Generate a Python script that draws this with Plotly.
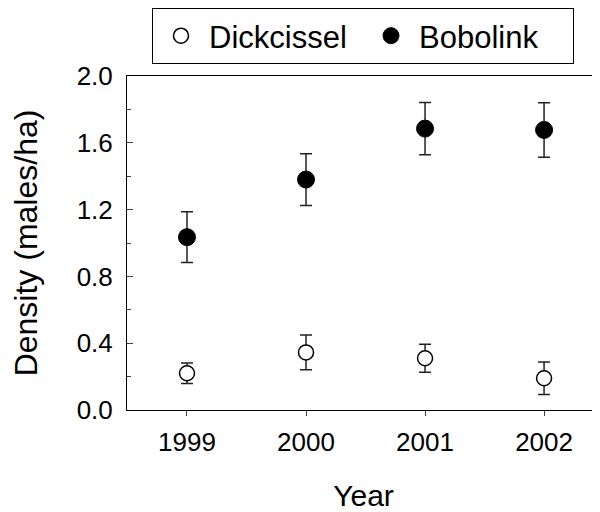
import plotly.graph_objects as go

years = [1999, 2000, 2001, 2002]
dick_mean = [0.22, 0.345, 0.31, 0.19]
dick_se = [0.062, 0.104, 0.084, 0.097]
bob_mean = [1.035, 1.38, 1.685, 1.677]
bob_se = [0.152, 0.155, 0.156, 0.163]
y_ticks = [0.0, 0.4, 0.8, 1.2, 1.6, 2.0]

FONT = "Liberation Sans, Arial, sans-serif"

fig = go.Figure()
fig.add_trace(go.Scatter(
    x=years, y=dick_mean, mode="markers", name="Dickcissel",
    marker=dict(symbol="circle", size=15, color="white", line=dict(color="black", width=1.5)),
    error_y=dict(type="data", array=dick_se, color="#222222", thickness=1.5, width=6),
))
fig.add_trace(go.Scatter(
    x=years, y=bob_mean, mode="markers", name="Bobolink",
    marker=dict(symbol="circle", size=17, color="black", line=dict(color="black", width=1)),
    error_y=dict(type="data", array=bob_se, color="#222222", thickness=1.5, width=6),
))
# right-hand tick axis (no line)
fig.add_trace(go.Scatter(x=[years[0]], y=[None], yaxis="y2", showlegend=False, hoverinfo="skip"))

fig.update_layout(
    width=592, height=504,
    margin=dict(l=119, r=0, t=68, b=102, autoexpand=False),
    paper_bgcolor="white", plot_bgcolor="white",
    font=dict(family=FONT, color="black"),
    showlegend=True,
    legend=dict(
        orientation="h", x=144 / 592, y=1.0, xref="container", yref="container",
        xanchor="left", yanchor="top",
        font=dict(size=31, family=FONT, color="black"),
        bordercolor="black", borderwidth=1, bgcolor="white",
        itemwidth=46, entrywidth=149,
    ),
    xaxis=dict(
        range=[1998.496, 2002.47],
        tickvals=years, ticktext=[str(y) for y in years],
        ticks="outside", ticklen=5, tickwidth=1, tickcolor="#444444",
        showline=True, linecolor="black", linewidth=1, mirror=True,
        showgrid=False, zeroline=False, automargin=False,
        ticklabelstandoff=4,
        tickfont=dict(size=26, family=FONT, color="black"),
        title=dict(text="Year", font=dict(size=30, family=FONT, color="black"), standoff=31),
    ),
    yaxis=dict(
        range=[0, 2.0],
        tickvals=y_ticks, ticktext=[f"{v:.1f}" for v in y_ticks],
        ticks="inside", ticklen=6, tickwidth=1, tickcolor="#444444",
        minor=dict(dtick=0.2, ticks="inside", ticklen=4, tickcolor="#444444", tick0=0),
        showline=True, linecolor="black", linewidth=1,
        showgrid=False, zeroline=False, automargin=False,
        tickfont=dict(size=26, family=FONT, color="black"),
        ticklabelstandoff=8,
        title=dict(text="Density (males/ha)", font=dict(size=32, family=FONT, color="black"), standoff=29),
    ),
    yaxis2=dict(
        overlaying="y", side="right", range=[0, 2.0],
        tickvals=y_ticks, showticklabels=False,
        ticks="inside", ticklen=4, tickwidth=1, tickcolor="#666666",
        minor=dict(dtick=0.2, ticks="inside", ticklen=2, tickcolor="#666666", tick0=0),
        showline=False, showgrid=False, zeroline=False, automargin=False,
    ),
)

fig.write_html("out.html")
